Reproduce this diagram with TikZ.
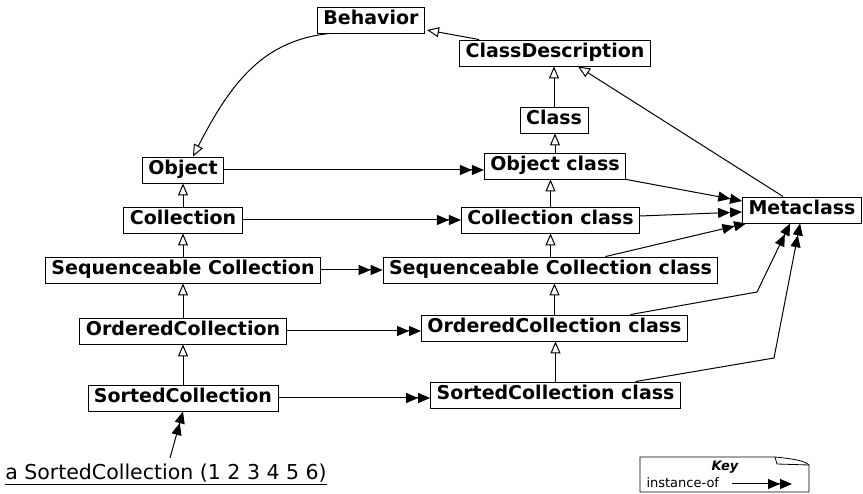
\documentclass[tikz,border=0pt]{standalone}
\usepackage{fontspec}
\setmainfont{DejaVu Sans}
\usetikzlibrary{arrows.meta,calc}
\begin{document}
\begin{tikzpicture}[x=1pt,y=-1pt,line width=1pt,
  cls/.style={draw,line width=0.9pt,font=\fontsize{19}{22}\selectfont\bfseries,
    inner xsep=6pt,inner ysep=0pt,text height=14pt,text depth=4pt,minimum height=26pt},
  isa/.style={-{Triangle[open,length=12pt,width=10pt]}},
  inst/.style={-{Triangle[length=12pt,width=10pt]Triangle[length=12pt,width=10pt]}}]
\useasboundingbox (0,0) rectangle (863,494);

\node[cls] (beh) at (371,20) {Behavior};
\node[cls] (cd) at (555,53) {ClassDescription};
\node[cls] (cls) at (554,120) {Class};
\node[cls] (meta) at (802,210) {Metaclass};

\node[cls] (obj) at (183,170) {Object};
\node[cls] (col) at (183,220) {Collection};
\node[cls] (seq) at (183,270) {Sequenceable Collection};
\node[cls] (ord) at (183,331) {OrderedCollection};
\node[cls] (sor) at (183,398) {SortedCollection};

\node[cls] (ocl) at (555,166) {Object class};
\node[cls] (ccl) at (550.5,220) {Collection class};
\node[cls] (scl) at (550.5,270) {Sequenceable Collection class};
\node[cls] (orcl) at (554.5,328) {OrderedCollection class};
\node[cls] (socl) at (555.5,395) {SortedCollection class};

\node[font=\fontsize{20.5}{24}\selectfont,inner sep=0pt,anchor=base] (inst) at (166,480) {\underline{a SortedCollection (1 2 3 4 5 6)}};

\draw[isa] ($(beh.south west)+(13,0)$) .. controls (265,40) and (232,80) .. ($(obj.north)+(10,0)$);
\draw[isa] ($(cd.north west)+(20,0)$) -- ($(beh.east)+(2,10)$);
\draw[isa] (cls.north) -- (cls.north |- cd.south);
\draw[isa] (ocl.north) -- (ocl.north |- cls.south);
\draw[isa] (ccl.north) -- (ccl.north |- ocl.south);
\draw[isa] (scl.north) -- (scl.north |- ccl.south);
\draw[isa] (orcl.north) -- (orcl.north |- scl.south);
\draw[isa] (socl.north) -- (socl.north |- orcl.south);
\draw[isa] ($(meta.north west)+(41,0)$) -- ($(cd.south)+(23,0)$);

\draw[isa] (col.north) -- (obj.south);
\draw[isa] (seq.north) -- (col.south);
\draw[isa] (ord.north) -- (seq.south);
\draw[isa] (sor.north) -- (ord.south);

\draw[inst] (obj.east) -- (obj.east -| ocl.west);
\draw[inst] (col.east) -- (col.east -| ccl.west);
\draw[inst] (seq.east) -- (seq.east -| scl.west);
\draw[inst] (ord.east) -- (ord.east -| orcl.west);
\draw[inst] (sor.east) -- (sor.east -| socl.west);

\draw[inst] (ocl.south east) -- ($(meta.west)+(0,-9)$);
\draw[inst] ($(ccl.east)+(0,-4)$) -- ($(meta.west)+(0,2)$);
\draw[inst] ($(scl.north)+(55,0)$) -- ($(meta.south west)+(4,0)$);
\draw[inst] ($(orcl.north)+(76,0)$) -- (757,292) -- ($(meta.south west)+(48,0)$);
\draw[inst] ($(socl.north)+(80,0)$) -- (774,358) -- ($(meta.south west)+(58,0)$);

\draw[inst] ($(inst.north)+(4,-6)$) -- (sor.south);

\draw[line width=0.8pt] (640,457) -- (775,457) .. controls (795,459) and (805,461) .. (809,465) -- (809,492) -- (640,492) -- cycle;
\draw[line width=0.8pt] (775,457) -- (777,464) -- (809,465);
\node[font=\fontsize{13}{15}\selectfont\bfseries\itshape] (keyt) at (725,467) {Key};
\node[font=\fontsize{13}{15}\selectfont,anchor=base west,inner sep=0pt] (keyl) at (646,488) {instance-of};
\coordinate (keya) at (732,484);
\coordinate (keyb) at (792,484);
\draw[inst] (keya) -- (keyb);
\end{tikzpicture}
\end{document}
